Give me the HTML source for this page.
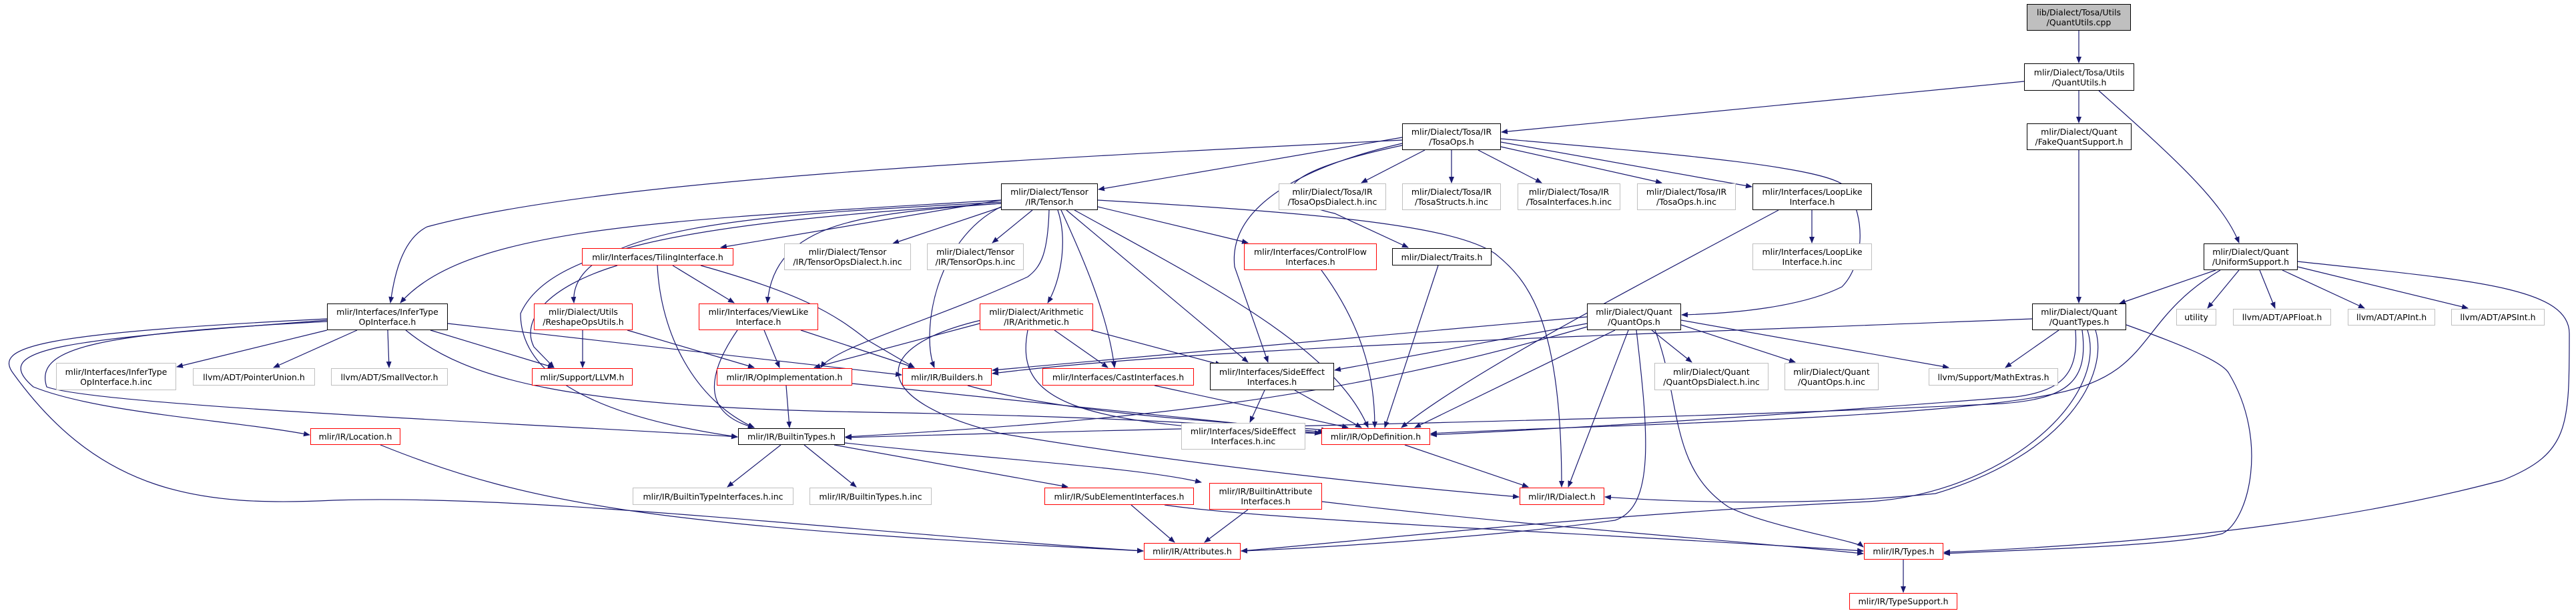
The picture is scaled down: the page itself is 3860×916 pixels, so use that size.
<!DOCTYPE html>
<html><head><meta charset="utf-8"><style>
body{margin:0;background:#fff;}
#c{position:relative;width:3860px;height:916px;overflow:hidden;background:#fff;}
svg{position:absolute;left:0;top:0;}
.n{position:absolute;box-sizing:border-box;border:1px solid #000;background:#fff;font-family:"DejaVu Sans","Liberation Sans",sans-serif;font-size:12.5px;line-height:15px;color:#000;display:flex;align-items:center;justify-content:center;text-align:center;white-space:nowrap;}
.r{border-color:#ff0000;}
.g{border-color:#bfbfbf;color:#000;}
.t{background:#bfbfbf;border-color:#000;}
</style></head><body><div id="c">
<svg width="3860" height="916" viewBox="0 0 3860 916">
<defs><marker id="a" markerWidth="10" markerHeight="8" refX="9" refY="4" orient="auto" markerUnits="userSpaceOnUse"><path d="M0,0 L10,4 L0,8 z" fill="#191970"/></marker></defs>
<g fill="none" stroke="#191970" stroke-width="1.2" marker-end="url(#a)">
<path d="M3115,46 L3115,94"/>
<path d="M3115,136 L3115,184"/>
<path d="M3145,136 C3250,230 3330,300 3355,364"/>
<path d="M3033,122 L2250,198"/>
<path d="M3115,225 L3115,454"/>
<path d="M3320,405 L3176,455"/>
<path d="M3355,405 L3308,462"/>
<path d="M3386,405 L3409,462"/>
<path d="M3420,405 L3543,462"/>
<path d="M3443,400 L3698,462"/>
<path d="M3443,392 C3700,420 3850,430 3850,500 C3850,640 3850,680 3750,720 C3450,800 3100,820 2913,828"/>
<path d="M3327,405 C3200,480 3230,560 3080,590 C2900,630 2300,640 2144,650"/>
<path d="M3085,495 L3005,551"/>
<path d="M3186,487 C3250,510 3330,540 3340,560 C3400,660 3370,780 3330,800 C3250,820 3000,825 2913,830"/>
<path d="M3140,495 C3160,560 3100,680 2900,740 C2700,760 2500,752 2405,745"/>
<path d="M3110,495 C3115,560 3090,586 3020,595 C2700,620 2400,640 2144,652"/>
<path d="M3120,495 C3130,570 3100,598 3000,605 C2500,630 1800,640 1267,656"/>
<path d="M3045,478 C2500,500 1800,520 1487,560"/>
<path d="M3128,495 C3160,600 3000,740 2800,752 C2400,770 2000,815 1860,826"/>
<path d="M2101,206 L1646,284"/>
<path d="M2135,225 L2040,274"/>
<path d="M2175,225 L2175,274"/>
<path d="M2215,225 L2310,274"/>
<path d="M2249,220 L2490,274"/>
<path d="M2249,213 L2625,280"/>
<path d="M2249,208 C2500,230 2740,250 2765,280 C2800,330 2790,400 2760,430 C2700,460 2600,470 2520,472"/>
<path d="M2101,218 C1950,250 1870,290 2000,320 L2110,371"/>
<path d="M2101,215 C1950,250 1840,310 1850,400 L1900,543"/>
<path d="M2101,210 C1500,240 900,270 640,340 C600,360 590,420 585,454"/>
<path d="M1502,310 L1338,365"/>
<path d="M1547,315 L1487,364"/>
<path d="M1645,310 L1870,364"/>
<path d="M1645,300 C2000,320 2180,340 2240,380 C2290,420 2340,480 2340,730"/>
<path d="M1500,300 L1080,371"/>
<path d="M1500,305 C1300,320 1160,330 1150,454"/>
<path d="M1500,303 C1200,320 850,330 860,454"/>
<path d="M1500,300 C1000,330 700,340 600,454"/>
<path d="M1500,305 C1000,335 820,380 780,470 C780,600 1000,640 1105,655"/>
<path d="M1572,315 C1570,380 1560,400 1540,415 C1400,480 1250,520 1230,551"/>
<path d="M1585,315 C1600,360 1590,420 1570,454"/>
<path d="M1590,315 C1620,380 1660,470 1670,551"/>
<path d="M1598,315 L1870,543"/>
<path d="M1610,315 C1800,420 2000,520 2050,641"/>
<path d="M1500,310 C1400,360 1380,500 1400,551"/>
<path d="M925,398 C820,430 780,480 800,520 L830,551"/>
<path d="M1008,398 L1100,454"/>
<path d="M985,398 C990,500 1040,600 1130,641"/>
<path d="M1050,398 C1200,440 1250,470 1300,510 L1370,551"/>
<path d="M873,495 L873,551"/>
<path d="M940,495 L1130,551"/>
<path d="M1145,495 L1168,551"/>
<path d="M1105,495 C1060,560 1050,620 1130,641"/>
<path d="M1200,495 L1370,551"/>
<path d="M490,495 L265,550"/>
<path d="M535,495 L410,551"/>
<path d="M581,495 L583,551"/>
<path d="M645,495 L830,551"/>
<path d="M608,495 C700,570 850,610 1300,618 C1700,625 1900,640 1979,650"/>
<path d="M671,485 L1351,562"/>
<path d="M490,480 C100,510 -20,520 50,580 C150,620 350,630 464,652"/>
<path d="M490,482 C150,500 50,520 70,580 C150,610 900,640 1105,655"/>
<path d="M490,478 C50,500 -10,520 20,560 C150,740 300,760 500,750 C800,740 1300,800 1713,826"/>
<path d="M570,667 C800,760 1000,790 1713,826"/>
<path d="M1178,578 L1183,641"/>
<path d="M1277,575 L1984,648"/>
<path d="M1170,667 L1090,730"/>
<path d="M1205,667 L1283,730"/>
<path d="M1250,667 L1600,730"/>
<path d="M1266,664 C1500,690 1700,700 1800,723"/>
<path d="M1695,757 L1760,813"/>
<path d="M1745,757 C1900,780 2400,800 2792,826"/>
<path d="M1870,764 L1805,813"/>
<path d="M1981,752 C2300,790 2600,810 2792,830"/>
<path d="M1468,485 L1220,551"/>
<path d="M1580,495 L1660,551"/>
<path d="M1635,495 L1830,547"/>
<path d="M1540,495 C1520,600 1600,640 1989,650"/>
<path d="M1470,480 C1300,520 1300,600 1500,650 C1800,700 2100,730 2276,745"/>
<path d="M1450,578 C1600,620 1800,630 1989,645"/>
<path d="M1730,578 L2020,641"/>
<path d="M1940,585 L2040,641"/>
<path d="M1895,585 L1873,633"/>
<path d="M1980,405 C2050,500 2060,580 2060,641"/>
<path d="M2155,398 L2075,641"/>
<path d="M2715,315 L2715,364"/>
<path d="M2665,315 C2450,430 2200,560 2100,641"/>
<path d="M2105,667 L2290,730"/>
<path d="M2852,839 L2852,888"/>
<path d="M2475,495 L2535,543"/>
<path d="M2519,487 L2690,543"/>
<path d="M2519,480 L2920,551"/>
<path d="M2378,485 L2000,555"/>
<path d="M2378,475 L1487,555"/>
<path d="M2420,495 L2120,641"/>
<path d="M2440,495 L2350,730"/>
<path d="M2480,495 C2520,600 2500,700 2590,760 C2650,790 2780,810 2792,820"/>
<path d="M2452,495 C2470,650 2480,760 2420,780 C2200,810 1900,825 1860,826"/>
<path d="M2378,490 C2000,600 1700,630 1267,655"/>
</g></svg>
<div class="n t" style="left:3037px;top:6px;width:156px;height:40px">lib/Dialect/Tosa/Utils<br>/QuantUtils.cpp</div>
<div class="n" style="left:3033px;top:95px;width:165px;height:41px">mlir/Dialect/Tosa/Utils<br>/QuantUtils.h</div>
<div class="n" style="left:3037px;top:185px;width:157px;height:40px">mlir/Dialect/Quant<br>/FakeQuantSupport.h</div>
<div class="n" style="left:3302px;top:365px;width:141px;height:40px">mlir/Dialect/Quant<br>/UniformSupport.h</div>
<div class="n" style="left:3045px;top:455px;width:141px;height:40px">mlir/Dialect/Quant<br>/QuantTypes.h</div>
<div class="n g" style="left:3261px;top:463px;width:60px;height:25px">utility</div>
<div class="n g" style="left:3346px;top:463px;width:147px;height:25px">llvm/ADT/APFloat.h</div>
<div class="n g" style="left:3518px;top:463px;width:131px;height:25px">llvm/ADT/APInt.h</div>
<div class="n g" style="left:3673px;top:463px;width:140px;height:25px">llvm/ADT/APSInt.h</div>
<div class="n" style="left:2101px;top:185px;width:148px;height:40px">mlir/Dialect/Tosa/IR<br>/TosaOps.h</div>
<div class="n g" style="left:1916px;top:275px;width:161px;height:40px">mlir/Dialect/Tosa/IR<br>/TosaOpsDialect.h.inc</div>
<div class="n g" style="left:2101px;top:275px;width:148px;height:40px">mlir/Dialect/Tosa/IR<br>/TosaStructs.h.inc</div>
<div class="n g" style="left:2274px;top:275px;width:154px;height:40px">mlir/Dialect/Tosa/IR<br>/TosaInterfaces.h.inc</div>
<div class="n g" style="left:2453px;top:275px;width:148px;height:40px">mlir/Dialect/Tosa/IR<br>/TosaOps.h.inc</div>
<div class="n" style="left:2626px;top:275px;width:179px;height:40px">mlir/Interfaces/LoopLike<br>Interface.h</div>
<div class="n g" style="left:2626px;top:365px;width:179px;height:40px">mlir/Interfaces/LoopLike<br>Interface.h.inc</div>
<div class="n" style="left:1500px;top:275px;width:145px;height:40px">mlir/Dialect/Tensor<br>/IR/Tensor.h</div>
<div class="n g" style="left:1175px;top:365px;width:190px;height:40px">mlir/Dialect/Tensor<br>/IR/TensorOpsDialect.h.inc</div>
<div class="n g" style="left:1389px;top:365px;width:145px;height:40px">mlir/Dialect/Tensor<br>/IR/TensorOps.h.inc</div>
<div class="n r" style="left:1864px;top:365px;width:199px;height:40px">mlir/Interfaces/ControlFlow<br>Interfaces.h</div>
<div class="n" style="left:2086px;top:372px;width:149px;height:26px">mlir/Dialect/Traits.h</div>
<div class="n r" style="left:872px;top:372px;width:227px;height:26px">mlir/Interfaces/TilingInterface.h</div>
<div class="n" style="left:490px;top:455px;width:181px;height:40px">mlir/Interfaces/InferType<br>OpInterface.h</div>
<div class="n r" style="left:800px;top:455px;width:148px;height:40px">mlir/Dialect/Utils<br>/ReshapeOpsUtils.h</div>
<div class="n r" style="left:1047px;top:455px;width:179px;height:40px">mlir/Interfaces/ViewLike<br>Interface.h</div>
<div class="n r" style="left:1468px;top:455px;width:170px;height:40px">mlir/Dialect/Arithmetic<br>/IR/Arithmetic.h</div>
<div class="n" style="left:2378px;top:455px;width:141px;height:40px">mlir/Dialect/Quant<br>/QuantOps.h</div>
<div class="n g" style="left:84px;top:544px;width:180px;height:41px">mlir/Interfaces/InferType<br>OpInterface.h.inc</div>
<div class="n g" style="left:289px;top:552px;width:183px;height:26px">llvm/ADT/PointerUnion.h</div>
<div class="n g" style="left:496px;top:552px;width:175px;height:26px">llvm/ADT/SmallVector.h</div>
<div class="n r" style="left:797px;top:552px;width:151px;height:26px">mlir/Support/LLVM.h</div>
<div class="n r" style="left:1074px;top:552px;width:203px;height:26px">mlir/IR/OpImplementation.h</div>
<div class="n r" style="left:1352px;top:552px;width:134px;height:26px">mlir/IR/Builders.h</div>
<div class="n r" style="left:1562px;top:552px;width:227px;height:26px">mlir/Interfaces/CastInterfaces.h</div>
<div class="n" style="left:1813px;top:544px;width:186px;height:41px">mlir/Interfaces/SideEffect<br>Interfaces.h</div>
<div class="n g" style="left:2479px;top:544px;width:171px;height:41px">mlir/Dialect/Quant<br>/QuantOpsDialect.h.inc</div>
<div class="n g" style="left:2674px;top:544px;width:141px;height:41px">mlir/Dialect/Quant<br>/QuantOps.h.inc</div>
<div class="n g" style="left:2890px;top:552px;width:194px;height:26px">llvm/Support/MathExtras.h</div>
<div class="n g" style="left:1770px;top:634px;width:186px;height:40px">mlir/Interfaces/SideEffect<br>Interfaces.h.inc</div>
<div class="n r" style="left:465px;top:642px;width:135px;height:25px">mlir/IR/Location.h</div>
<div class="n" style="left:1106px;top:642px;width:160px;height:25px">mlir/IR/BuiltinTypes.h</div>
<div class="n r" style="left:1980px;top:642px;width:163px;height:25px">mlir/IR/OpDefinition.h</div>
<div class="n g" style="left:948px;top:731px;width:241px;height:26px">mlir/IR/BuiltinTypeInterfaces.h.inc</div>
<div class="n g" style="left:1213px;top:731px;width:183px;height:26px">mlir/IR/BuiltinTypes.h.inc</div>
<div class="n r" style="left:1565px;top:731px;width:224px;height:26px">mlir/IR/SubElementInterfaces.h</div>
<div class="n r" style="left:1812px;top:724px;width:169px;height:40px">mlir/IR/BuiltinAttribute<br>Interfaces.h</div>
<div class="n r" style="left:2277px;top:731px;width:127px;height:26px">mlir/IR/Dialect.h</div>
<div class="n r" style="left:1714px;top:814px;width:145px;height:25px">mlir/IR/Attributes.h</div>
<div class="n r" style="left:2793px;top:814px;width:119px;height:25px">mlir/IR/Types.h</div>
<div class="n r" style="left:2771px;top:889px;width:162px;height:25px">mlir/IR/TypeSupport.h</div>
</div></body></html>
